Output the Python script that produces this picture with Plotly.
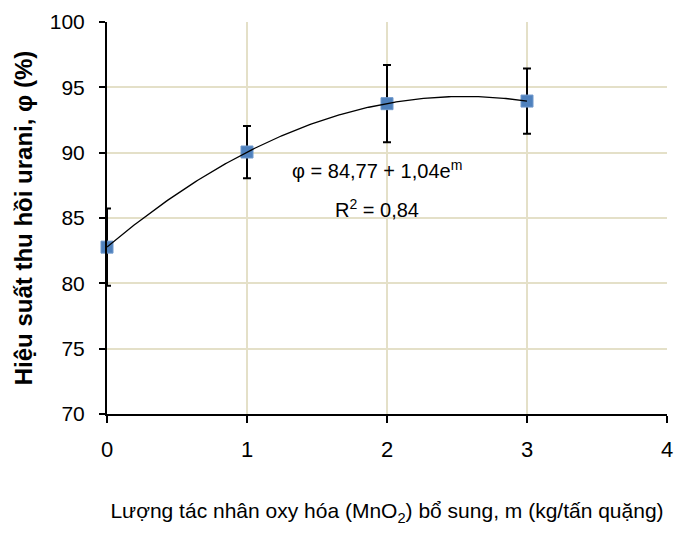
import numpy as np
import plotly.graph_objects as go

# Data
m_values = [0, 1, 2, 3]
phi_values = [82.77, 90.05, 93.75, 93.95]
phi_errors = [2.95, 2.0, 2.95, 2.5]
x_ticks = [0, 1, 2, 3, 4]
y_ticks = [70, 75, 80, 85, 90, 95, 100]
eq_text = "φ = 84,77 + 1,04e<sup>m</sup>"
r2_text = "R<sup>2</sup> = 0,84"

# Quadratic trendline fitted to the data (as the spreadsheet trendline)
coef = np.polyfit(m_values, phi_values, 2)
m_fit = np.linspace(min(m_values), max(m_values), 200)
phi_fit = np.polyval(coef, m_fit)

FONT = "Liberation Sans, Arial, sans-serif"
GRID = "#e4e0c8"

fig = go.Figure()
fig.add_trace(go.Scatter(
    x=m_values, y=phi_values, mode="markers",
    marker=dict(symbol="square", size=12, color="#4f81bd",
                line=dict(color="#6f98cc", width=1)),
    error_y=dict(type="data", array=phi_errors, visible=True,
                 color="black", thickness=2, width=4),
    cliponaxis=False,
    showlegend=False, hoverinfo="x+y",
))
fig.add_trace(go.Scatter(
    x=m_fit, y=phi_fit, mode="lines",
    line=dict(color="black", width=1.3),
    cliponaxis=False,
    showlegend=False, hoverinfo="skip",
))

fig.add_annotation(x=1.93, y=88.7, text=eq_text, showarrow=False,
                   font=dict(family=FONT, size=20, color="black"))
fig.add_annotation(x=1.93, y=85.7, text=r2_text, showarrow=False,
                   font=dict(family=FONT, size=20, color="black"))

fig.update_layout(
    width=678, height=541,
    margin=dict(l=107, r=11, t=22, b=127),
    plot_bgcolor="white", paper_bgcolor="white",
    font=dict(family=FONT, color="black"),
)
fig.update_xaxes(
    range=[0, 4], tickvals=x_ticks, ticktext=[str(v) for v in x_ticks],
    showgrid=True, gridcolor=GRID, gridwidth=1.5,
    showline=True, linecolor="black", linewidth=2,
    ticks="outside", ticklen=7, tickwidth=2, tickcolor="black",
    tickfont=dict(family=FONT, size=22, color="black"),
    ticklabelstandoff=8,
    zeroline=False, automargin=False,
    title=dict(text="Lượng tác nhân oxy hóa (MnO<sub>2</sub>) bổ sung, m (kg/tấn quặng)",
               font=dict(family=FONT, size=21, color="black"), standoff=42),
)
fig.update_yaxes(
    range=[70, 100], tickvals=y_ticks, ticktext=[str(v) for v in y_ticks],
    showgrid=True, gridcolor=GRID, gridwidth=1.5,
    showline=True, linecolor="black", linewidth=2,
    ticks="outside", ticklen=6, tickwidth=2, tickcolor="black",
    tickfont=dict(family=FONT, size=21, color="black"),
    ticklabelstandoff=10,
    zeroline=False, automargin=False,
    title=dict(text="<b>Hiệu suất thu hồi urani, φ (%)</b>",
               font=dict(family=FONT, size=24, color="black"),
               standoff=10),
)

fig.write_html("out.html")
